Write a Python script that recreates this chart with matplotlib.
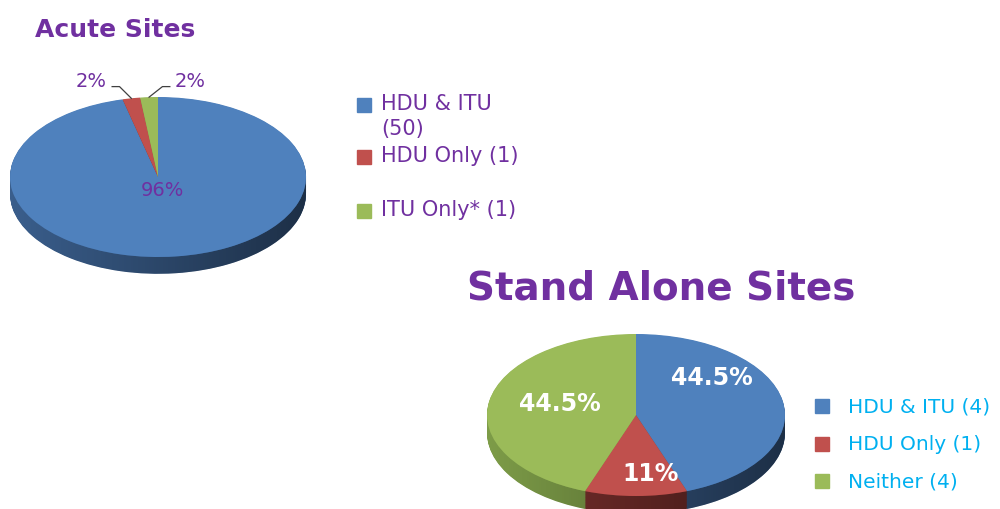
import numpy as np
import matplotlib
matplotlib.use("Agg")
import matplotlib.pyplot as plt
from matplotlib.patches import Rectangle, Polygon
from matplotlib.colors import LinearSegmentedColormap

# ── Data ──────────────────────────────────────────────────────────────
acute_labels = ["HDU & ITU\n(50)", "HDU Only (1)", "ITU Only* (1)"]
acute_values = [50, 1, 1]
acute_pct    = ["96%", "2%", "2%"]

alone_labels = ["HDU & ITU (4)", "HDU Only (1)", "Neither (4)"]
alone_values = [4, 1, 4]
alone_pct    = ["44.5%", "11%", "44.5%"]

top_colors  = ["#4F81BD", "#C0504D", "#9BBB59"]
side_colors = ["#3A5E8C", "#7A302D", "#7D9C48"]
PURPLE = "#7030A0"
CYAN   = "#00B0F0"
FONT   = "DejaVu Sans"

W, H = 1000, 510
fig = plt.figure(figsize=(W / 100, H / 100), dpi=100)

# overlay axes in pixel coords for titles / legends
ov = fig.add_axes([0, 0, 1, 1])
ov.set_xlim(0, W)
ov.set_ylim(H, 0)
ov.axis("off")

shade = LinearSegmentedColormap.from_list(
    "shade", [(0, 0, 0, 0.0), (0, 0, 0, 0.5)])


def pie_axes(cx, cy, rx, ry, a, b):
    ax = fig.add_axes([(cx - a * rx) / W, (H - cy - b * ry) / H,
                       2 * a * rx / W, 2 * b * ry / H])
    return ax


def draw_3d_pie(ax, values, thick, a, b):
    # side of the disc: stacked darker copies
    for k in np.linspace(thick, 0, 30)[:-1]:
        ax.pie(values, colors=side_colors, startangle=90, counterclock=False,
               center=(0, -k), wedgeprops=dict(linewidth=0))
    # left-to-right darkening of the side band
    t = np.linspace(np.pi, 2 * np.pi, 200)
    band = np.concatenate([np.c_[np.cos(t), np.sin(t)],
                           np.c_[np.cos(t[::-1]), np.sin(t[::-1]) - thick]])
    clip = Polygon(band, closed=True, transform=ax.transData)
    im = ax.imshow(np.linspace(0, 1, 256).reshape(1, -1), cmap=shade,
                   extent=(-1, 1, -1 - thick, 0), aspect="auto", zorder=1.5)
    im.set_clip_path(clip)
    # top face
    wedges, _ = ax.pie(values, colors=top_colors, startangle=90,
                       counterclock=False, wedgeprops=dict(linewidth=0, zorder=2))
    ax.set_xlim(-a, a)
    ax.set_ylim(-b, b)
    ax.set_aspect("auto")
    ax.axis("off")
    return wedges


# ── Acute Sites ───────────────────────────────────────────────────────
ax1 = pie_axes(158, 178, 148, 80, 1.3, 1.9)
w1 = draw_3d_pie(ax1, acute_values, 0.21, 1.3, 1.9)
ax1.text(0.03, -0.16, acute_pct[0], ha="center", va="center",
         color=PURPLE, fontsize=14, family=FONT, zorder=3)

# small slices: labels outside with leader lines
for wdg, pct, lx, ex in zip(w1[1:], acute_pct[1:], [-0.45, 0.22], [-0.26, 0.03]):
    mid = np.deg2rad((wdg.theta1 + wdg.theta2) / 2)
    px, py = np.cos(mid), np.sin(mid)
    side = -1 if lx < 0 else 1
    ax1.plot([px, ex, ex + side * 0.05], [py, 1.13, 1.13],
             color="#404040", lw=0.9, zorder=3)
    ax1.text(lx, 1.21, pct, ha="center", va="center",
             color=PURPLE, fontsize=14, family=FONT)

ov.text(35, 30, "Acute Sites", ha="left", va="center", color=PURPLE,
        fontsize=18, fontweight="bold", family=FONT)

leg1_y = [106, 158, 212]
for lab, col, y in zip(acute_labels, top_colors, leg1_y):
    ov.add_patch(Rectangle((357, y - 7), 14, 14, color=col))
    ov.text(381, y - 12, lab, ha="left", va="top", color=PURPLE,
            fontsize=15, family=FONT, linespacing=1.3)

# ── Stand Alone Sites ─────────────────────────────────────────────────
ax2 = pie_axes(636, 416, 149, 81, 1.1, 1.3)
w2 = draw_3d_pie(ax2, alone_values, 0.22, 1.1, 1.3)
for pct, (x, y) in zip(alone_pct, [(0.51, 0.47), (0.10, -0.72), (-0.51, 0.15)]):
    ax2.text(x, y, pct, ha="center", va="center", color="white",
             fontsize=17, fontweight="bold", family=FONT, zorder=3)

ov.text(467, 289, "Stand Alone Sites", ha="left", va="center", color=PURPLE,
        fontsize=28, fontweight="bold", family=FONT)

leg2_y = [407, 445, 482]
for lab, col, y in zip(alone_labels, top_colors, leg2_y):
    ov.add_patch(Rectangle((815, y - 7), 14, 14, color=col))
    ov.text(848, y, lab, ha="left", va="center", color=CYAN,
            fontsize=14.5, family=FONT)

fig.savefig("out.png", dpi=100)
